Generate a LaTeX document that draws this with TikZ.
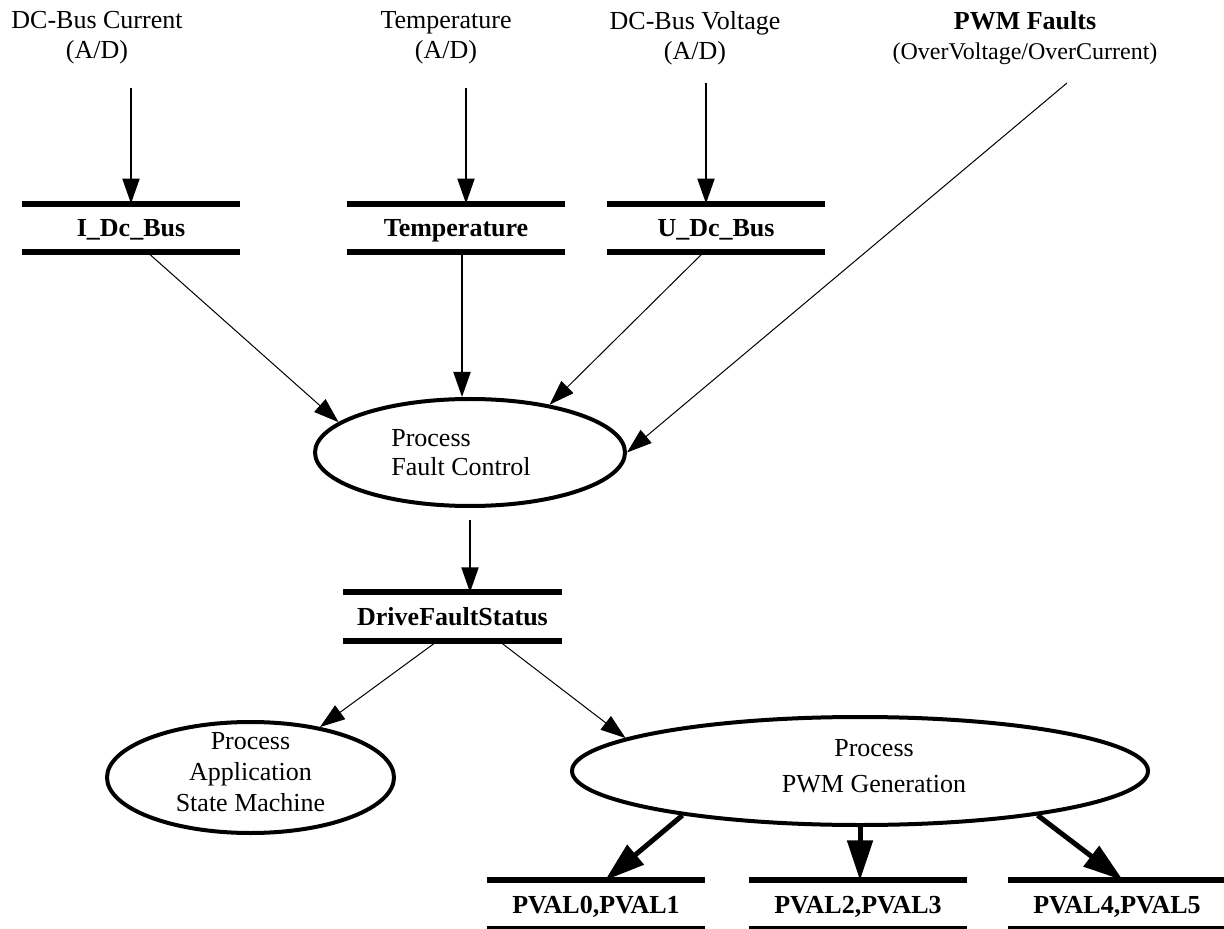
\documentclass[tikz,border=0pt]{standalone}
\usepackage{fontspec}
\setmainfont{Liberation Serif}
\usepackage{tikz}
\usetikzlibrary{positioning, arrows.meta}
\usetikzlibrary{shapes, positioning}

\begin{document}
\begin{tikzpicture}[x=0.5pt, y=-0.5pt,
    srctext/.style={align=center, anchor=north, inner sep=0pt, font=\fontsize{13}{15}\selectfont},
    store/.style={minimum width=109pt, minimum height=23.75pt, inner sep=0pt, text height=9pt, text depth=0pt, font=\fontsize{13}{15}\selectfont\bfseries},
    storebar/.style={line width=3pt},
    process/.style={ellipse, draw, line width=2pt, inner sep=0pt},
    proctext/.style={align=center, inner sep=0pt},
    flow/.style={-{Triangle[length=12.5pt, width=8.5pt]}, line width=1pt},
    thinflow/.style={flow, line width=0.5pt},
    bigflow/.style={-{Triangle[length=20pt, width=12.5pt]}, line width=2.5pt}]
                \useasboundingbox (0,0) rectangle (1224,929);

                \node[srctext] (curtxt) at (97,11) {DC-Bus Current\\(A/D)};
                \node[srctext] (temptxt) at (446,11) {Temperature\\(A/D)};
                \node[srctext] (volttxt) at (695,11) {DC-Bus Voltage\\(A/D)};
                \node[srctext] (pwmtxt) at (1025,11) {\textbf{PWM Faults}\\\fontsize{12}{15}\selectfont(OverVoltage/OverCurrent)};

                \node[store] (idc) at (131,227.75) {I\_Dc\_Bus};
                \node[store] (temp) at (456,227.75) {Temperature};
                \node[store] (udc) at (716,227.75) {U\_Dc\_Bus};
                \node[store] (dfs) at (452.5,616.5) {DriveFaultStatus};
                \node[store] (pvala) at (596,904.5) {PVAL0,PVAL1};
                \node[store] (pvalb) at (858,904.5) {PVAL2,PVAL3};
                \node[store] (pvalc) at (1117,904.5) {PVAL4,PVAL5};
                \foreach \s in {idc, temp, udc, dfs, pvala, pvalb, pvalc} {
                    \draw[storebar] (\s.north west) -- (\s.north east);
                    \draw[storebar] (\s.south west) -- (\s.south east);
                }

                \node[process, minimum width=155pt, minimum height=53.5pt, label={[proctext, font=\fontsize{13}{14.5}\selectfont, align=left, xshift=-4.5pt]center:{Process\\Fault Control}}] (fault) at (470,452.5) {};
                \node[process, minimum width=143.5pt, minimum height=55.5pt, label={[proctext, font=\fontsize{13}{15.5}\selectfont, yshift=2.75pt]center:{Process\\Application\\State Machine}}] (appsm) at (250.5,777.5) {};
                \node[process, minimum width=288pt, minimum height=54pt, label={[proctext, font=\fontsize{13}{18}\selectfont, xshift=7pt, yshift=2.5pt]center:{Process\\PWM Generation}}] (pwmgen) at (860,771) {};

                \coordinate (curin) at (131,88);
                \coordinate (tempin) at (466,88);
                \coordinate (voltin) at (706,83);
                \coordinate (pwmin) at (1067,83);

                \draw[flow] (curin) -- (idc.north);
                \draw[flow] (tempin) -- (tempin |- temp.north);
                \draw[flow] (voltin) -- (voltin |- udc.north);

                \draw[thinflow] ([xshift=8pt]idc.south) -- (fault.167);
                \draw[flow] ([xshift=3pt]temp.south) -- ([xshift=3pt]temp.south |- fault.north);
                \draw[thinflow] ([xshift=-6pt]udc.south) -- (fault.31);
                \draw[thinflow] (pwmin) -- (fault.east);

                \draw[flow] ([yshift=-6pt]fault.south) -- (fault.south |- dfs.north);
                \draw[thinflow] ([xshift=-7.25pt]dfs.south) -- (appsm.36);
                \draw[thinflow] ([xshift=23pt]dfs.south) -- (pwmgen.172);

                \draw[bigflow] (pwmgen.194) -- ([xshift=4.5pt]pvala.north);
                \draw[bigflow] (pwmgen.south) -- (pwmgen.south |- pvalb.north);
                \draw[bigflow] (pwmgen.346) -- ([xshift=3pt]pvalc.north);
            \end{tikzpicture}
\end{document}
